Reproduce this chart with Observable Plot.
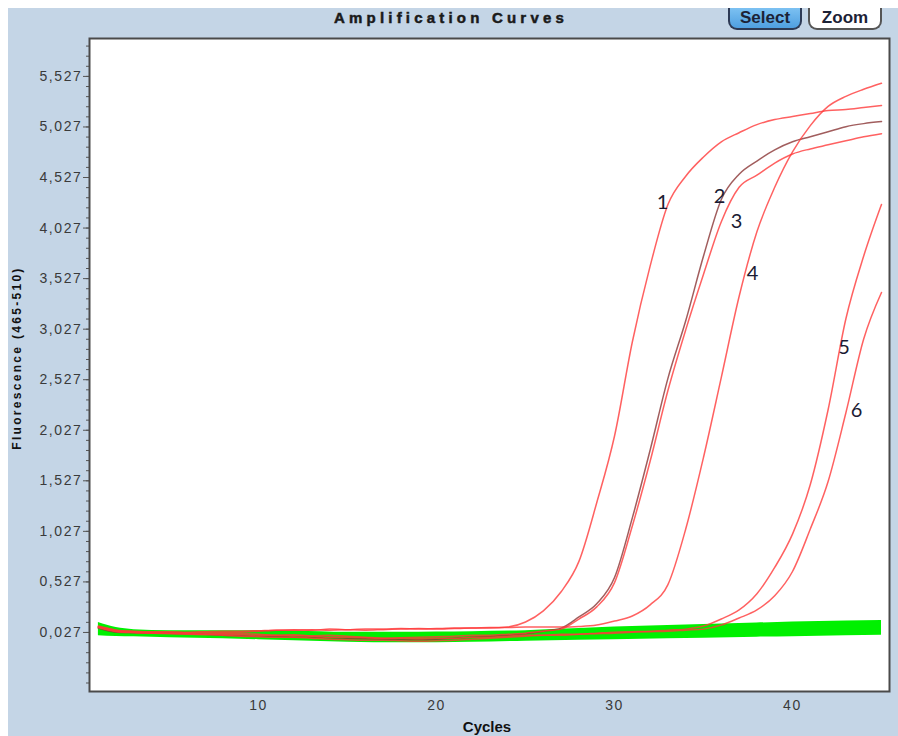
<!DOCTYPE html>
<html>
<head>
<meta charset="utf-8">
<script src="https://cdn.jsdelivr.net/npm/d3@7"></script>
<script src="https://cdn.jsdelivr.net/npm/@observablehq/plot@0.6"></script>
<style>
  html, body { margin: 0; padding: 0; background: #ffffff; }
  body { width: 898px; height: 736px; position: relative; overflow: hidden; font-family: "Liberation Sans", Arial, sans-serif; }
  #panel { position: absolute; left: 8px; top: 8px; width: 890px; height: 728px; background: #c4d5e6; overflow: hidden; }
  #title { position: absolute; left: 0; top: 1px; width: 886px; line-height: 18px; text-align: center; font-weight: bold; font-size: 15px; letter-spacing: 4.2px; color: #1a1a1a; -webkit-text-stroke: 0.5px #1a1a1a; }
  .btn { position: absolute; top: 0; height: 22px; border-radius: 0 0 9px 9px; box-sizing: border-box; border-top: none !important; line-height: 19px; font-size: 17px; text-align: center; color: #1c2236; font-weight: bold; }
  #select { left: 720px; width: 74px; background: linear-gradient(#7cc1f2, #4f9fe0); border: 2px solid #2d3a55; }
  #zoom { left: 800px; width: 74px; background: #ffffff; border: 2px solid #555; }
  #chart { position: absolute; left: 0; top: 0; }
  #ylabel { position: absolute; left: 17px; top: 358px; transform: translate(-50%, -50%) rotate(-90deg); white-space: nowrap; font-weight: bold; font-size: 12px; letter-spacing: 2.3px; color: #111; }
  #xlabel { position: absolute; left: 487px; top: 726px; transform: translate(-50%, -50%); font-weight: bold; font-size: 15px; color: #111; }
  svg [aria-label="y-axis tick label"] text, svg [aria-label="x-axis tick label"] text { letter-spacing: 1.6px; }
</style>
</head>
<body>
<div id="panel">
  <div id="title">Amplification Curves</div>
  <div class="btn" id="select">Select</div>
  <div class="btn" id="zoom">Zoom</div>
</div>
<div id="chart"></div>
<div id="ylabel">Fluorescence (465-510)</div>
<div id="xlabel">Cycles</div>
<script>
// ---- data ----
const cycles = [1,2,3,4,5,6,7,8,9,10,11,12,13,14,15,16,17,18,19,20,21,22,23,24,25,26,27,28,29,30,31,32,33,34,35,36,37,38,39,40,41,42,43,44,45];

const curve1 = [0.09,0.05,0.035,0.03,0.03,0.025,0.03,0.025,0.03,0.04,0.05,0.055,0.05,0.06,0.055,0.05,0.055,0.06,0.065,0.06,0.065,0.07,0.07,0.08,0.13,0.24,0.43,0.73,1.31,1.97,2.90,3.65,4.26,4.54,4.73,4.88,4.97,5.05,5.10,5.13,5.16,5.19,5.20,5.22,5.24];
const curve2 = [0.07,0.03,0.025,0.02,0.02,0.015,0.01,0.0,-0.005,-0.01,-0.01,-0.02,-0.02,-0.025,-0.03,-0.035,-0.04,-0.045,-0.045,-0.04,-0.03,-0.02,-0.01,0.0,0.015,0.04,0.07,0.18,0.31,0.57,1.16,1.83,2.54,3.11,3.75,4.31,4.56,4.69,4.80,4.88,4.93,4.98,5.03,5.06,5.08];
const curve3 = [0.08,0.04,0.03,0.025,0.02,0.02,0.015,0.02,0.015,0.01,0.0,0.005,-0.005,0.0,-0.01,-0.02,-0.03,-0.025,-0.02,-0.015,-0.01,0.0,0.0,0.01,0.02,0.04,0.06,0.16,0.28,0.52,1.08,1.72,2.42,3.02,3.57,4.09,4.43,4.55,4.67,4.76,4.81,4.85,4.89,4.93,4.96];
const curve4 = [0.085,0.05,0.04,0.035,0.035,0.03,0.035,0.04,0.04,0.045,0.05,0.05,0.055,0.05,0.055,0.06,0.06,0.065,0.06,0.065,0.07,0.07,0.075,0.075,0.08,0.08,0.08,0.085,0.10,0.14,0.19,0.30,0.50,1.05,1.76,2.55,3.35,3.99,4.43,4.78,5.04,5.23,5.33,5.40,5.46];
const curve5 = [0.08,0.04,0.03,0.02,0.02,0.015,0.01,0.01,0.005,0.0,0.0,-0.005,-0.01,-0.02,-0.02,-0.025,-0.03,-0.03,-0.035,-0.03,-0.03,-0.02,-0.02,-0.01,0.0,0.0,0.01,0.01,0.02,0.03,0.035,0.04,0.05,0.06,0.09,0.16,0.25,0.41,0.67,1.00,1.49,2.23,3.13,3.75,4.26];
const curve6 = [0.075,0.035,0.025,0.02,0.015,0.01,0.005,0.0,-0.01,-0.015,-0.02,-0.02,-0.03,-0.04,-0.045,-0.05,-0.05,-0.055,-0.06,-0.055,-0.05,-0.04,-0.03,-0.02,-0.01,0.0,0.0,0.01,0.015,0.02,0.03,0.035,0.04,0.05,0.06,0.10,0.17,0.25,0.39,0.63,1.05,1.52,2.20,2.93,3.39];

const sampleNames = ["1","2","3","4","5","6"];
const sampleColors = ["#ff3a3a","#8a3434","#ff3a3a","#ff3a3a","#ff3a3a","#ff3a3a"];

// negative controls: green band envelope
const greenCycles = [1,2,3,5,8,10,12,15,18,20,22,25,28,30,33,35,38,40,43,45];
const greenTop    = [0.125,0.075,0.055,0.045,0.045,0.045,0.04,0.03,0.03,0.032,0.035,0.045,0.065,0.08,0.095,0.105,0.12,0.13,0.14,0.145];
const greenBottom = [-0.005,-0.012,-0.015,-0.025,-0.035,-0.045,-0.055,-0.07,-0.075,-0.075,-0.07,-0.06,-0.05,-0.045,-0.035,-0.03,-0.02,-0.015,-0.005,0.0];

// curve number annotations
const labelCycle = [32.7, 35.9, 36.85, 37.75, 42.9, 43.6];
const labelValue = [4.28, 4.34, 4.09, 3.58, 2.84, 2.22];

// axis ticks
const yTickValues = [0.027,0.527,1.027,1.527,2.027,2.527,3.027,3.527,4.027,4.527,5.027,5.527];
const xTickValues = [10,20,30,40];

// ---- build tables ----
const allCurves = [curve1, curve2, curve3, curve4, curve5, curve6];
const rows = allCurves.flatMap((vals, k) => vals.map((v, i) => ({cycle: cycles[i], value: v, sample: sampleNames[k]})));
const green = greenCycles.map((c, i) => ({cycle: c, lo: greenBottom[i], hi: greenTop[i]}));
const labels = sampleNames.map((n, i) => ({cycle: labelCycle[i], value: labelValue[i], text: n}));
const yMinor = d3.range(-5, 59).map(k => +(0.027 + 0.1 * k).toFixed(3)).filter(v => v > -0.55 && v < 5.9);
const fmt = d => d.toFixed(3).replace(".", ",");

const chart = Plot.plot({
  width: 898,
  height: 736,
  marginLeft: 89,
  marginRight: 9,
  marginTop: 38,
  marginBottom: 45,
  style: {background: "transparent", fontFamily: "Liberation Sans, Arial, sans-serif", fontSize: "13px", color: "#3a3a3a"},
  x: {domain: [0.5, 45.45]},
  y: {domain: [-0.557, 5.902]},
  color: {domain: sampleNames, range: sampleColors},
  marks: [
    Plot.frame({fill: "white"}),
    Plot.areaY(green, {x: "cycle", y1: "lo", y2: "hi", fill: "#00f000", curve: "monotone-x"}),
    Plot.line(rows, {x: "cycle", y: "value", z: "sample", stroke: "sample", strokeWidth: 1.5, strokeOpacity: 0.8, curve: "monotone-x"}),
    Plot.text(labels, {x: "cycle", y: "value", text: "text", fontSize: 20, fill: "#1b1b33", fontFamily: "Lato, Open Sans, sans-serif"}),
    Plot.axisY({ticks: yMinor, tickSize: 3, text: null, label: null, stroke: "#555"}),
    Plot.axisY({ticks: yTickValues, tickSize: 6, tickPadding: 1, tickFormat: fmt, label: null, stroke: "#555", fontSize: 14}),
    Plot.axisX({ticks: xTickValues, tickSize: 0, tickPadding: 9, label: null, fontSize: 14}),
    Plot.frame({stroke: "#4a4a4a", strokeWidth: 2})
  ]
});
document.getElementById("chart").appendChild(chart);
</script>
</body>
</html>
